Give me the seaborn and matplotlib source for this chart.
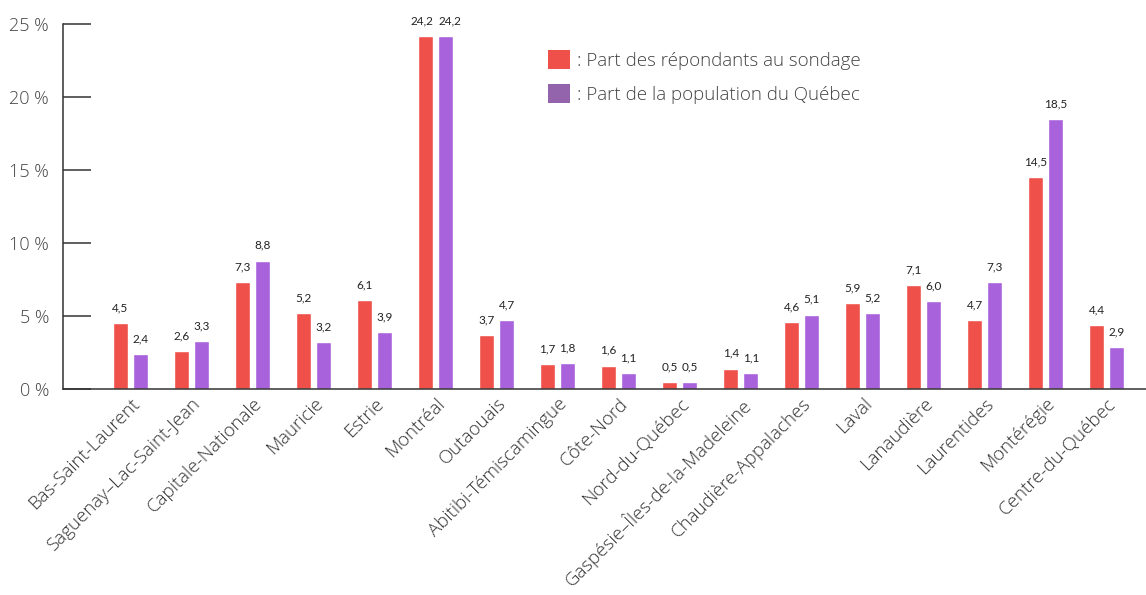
import matplotlib
matplotlib.use("Agg")
import matplotlib.pyplot as plt
import seaborn as sns
import pandas as pd
from matplotlib.patches import Patch

regions = ["Bas-Saint-Laurent", "Saguenay–Lac-Saint-Jean", "Capitale-Nationale", "Mauricie",
           "Estrie", "Montréal", "Outaouais", "Abitibi-Témiscamingue", "Côte-Nord",
           "Nord-du-Québec", "Gaspésie–Îles-de-la-Madeleine", "Chaudière-Appalaches",
           "Laval", "Lanaudière", "Laurentides", "Montérégie", "Centre-du-Québec"]
repondants = [4.5, 2.6, 7.3, 5.2, 6.1, 24.2, 3.7, 1.7, 1.6, 0.5, 1.4, 4.6, 5.9, 7.1, 4.7, 14.5, 4.4]
population = [2.4, 3.3, 8.8, 3.2, 3.9, 24.2, 4.7, 1.8, 1.1, 0.5, 1.1, 5.1, 5.2, 6.0, 7.3, 18.5, 2.9]
series_names = [": Part des répondants au sondage", ": Part de la population du Québec"]
y_ticks = [0, 5, 10, 15, 20, 25]

bar_colors = ["#f0504a", "#a862dc"]
legend_colors = ["#f0504a", "#9364ab"]

df = pd.DataFrame({
    "region": regions * 2,
    "valeur": repondants + population,
    "serie": [series_names[0]] * len(regions) + [series_names[1]] * len(regions),
})

sns.set_style("white")
plt.rcParams["font.family"] = ["Open Sans", "DejaVu Sans"]

fig = plt.figure(figsize=(11.46, 5.95), dpi=100)
ax = fig.add_axes([63 / 1146, 1 - 389 / 595, 1 - 63 / 1146, 365 / 595])

sns.barplot(data=df, x="region", y="valeur", hue="serie", palette=bar_colors,
            width=0.656, gap=0.25, saturation=1, legend=False, ax=ax)

# étiquettes de valeurs, virgule décimale
all_labels = []
for cont in ax.containers:
    labels = [f"{v:.1f}".replace(".", ",") for v in cont.datavalues]
    texts = ax.bar_label(cont, labels=labels, padding=7, fontsize=8.5, color="#222222",
                         family=["Lato", "DejaVu Sans"])
    all_labels.append(texts)

# écarter les deux étiquettes quand elles se touchent (Montréal)
for i, (r, p) in enumerate(zip(repondants, population)):
    if abs(r - p) < 0.5 and r >= 10:
        all_labels[0][i].xyann = (-3, 7)
        all_labels[1][i].xyann = (3, 7)

ax.set_ylim(0, 25)
ax.set_xlim(-1.106, 16.64)
ax.set_yticks(y_ticks)
ax.set_yticklabels([f"{t} %" for t in y_ticks], fontsize=13, color="#444444", fontweight="light")
ax.tick_params(axis="y", left=True, direction="in", length=20, width=1.1, color="#333333", pad=10)
ax.tick_params(axis="x", bottom=False, length=0, pad=4)
ax.set_xticks(range(len(regions)))
ax.set_xticklabels(regions, rotation=45, ha="right", rotation_mode="anchor",
                   fontsize=13.5, color="#333333", fontweight="light")
ax.set_xlabel("")
ax.set_ylabel("")

sns.despine(ax=ax)
for side in ["left", "bottom"]:
    ax.spines[side].set_color("#333333")
    ax.spines[side].set_linewidth(1.1)

handles = [Patch(facecolor=c, edgecolor="none") for c in legend_colors]
ax.legend(handles, series_names, loc="upper left", bbox_to_anchor=(0.432, 0.975),
          frameon=False, handlelength=1.2, handleheight=1.2,
          handletextpad=0.35, labelspacing=0.75, labelcolor="#444444",
          prop={"weight": "light", "size": 13.5})

fig.savefig("out.png", dpi=100)
